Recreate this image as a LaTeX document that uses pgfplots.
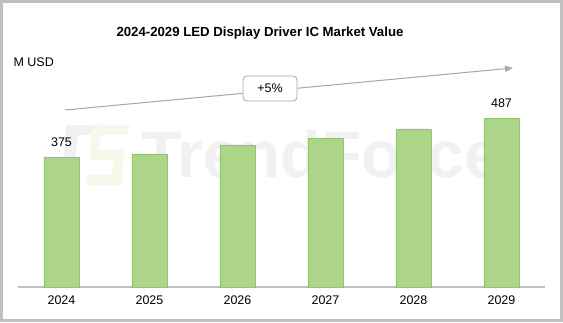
\documentclass[border=0pt]{standalone}
\usepackage{fontspec}
\setmainfont{Liberation Sans}
\usepackage{pgfplots}
\pgfplotsset{compat=1.18}
\usetikzlibrary{arrows.meta}
\definecolor{barfill}{RGB}{172,213,138}
\definecolor{baredge}{RGB}{146,196,106}
\definecolor{framegray}{RGB}{192,192,192}
\definecolor{arrowgray}{RGB}{166,166,166}
\definecolor{wm}{RGB}{241,241,241}
\definecolor{wmgreen}{RGB}{245,249,236}
\begin{document}
\begin{tikzpicture}[x=1pt,y=1pt]
\fill[white] (0,0) rectangle (563,322);
\draw[framegray,line width=3pt] (1.5,1.5) rectangle (561.5,320.5);
% watermark
\fill[wm] (66,197) -- (103,197) -- (100,187) -- (78,187) -- (72,137) -- (62,137) -- cycle;
\fill[wmgreen] (92,197) -- (130,197) -- (127,187) -- (100,187) -- (99,172) -- (124,172) -- (122,137) -- (85,137) -- (88,147) -- (112,147) -- (113,162) -- (90,162) -- cycle;
\node[wm,font=\bfseries\fontsize{66}{70}\selectfont,anchor=base] at (321,145) {TrendForce};
\begin{axis}[
  at={(17.5pt,35pt)}, anchor=south west,
  scale only axis, width=528pt, height=208pt,
  xmin=-0.5, xmax=5.5, ymin=0, ymax=600,
  axis x line=bottom, axis y line=none,
  axis line style={framegray,line width=1.5pt,-},
  x axis line style={-},
  xtick={0,1,2,3,4,5},
  xticklabels={2024,2025,2026,2027,2028,2029},
  major tick length=0pt,
  xticklabel style={font=\fontsize{12.5}{14}\selectfont,yshift=-5pt},
  /pgf/number format/assume math mode=true,
  clip=false,
]
\addplot[ybar, bar width=35pt, fill=barfill, draw=baredge] coordinates {
  (0,375) (1,384) (2,410) (3,428) (4,456) (5,487)};
\node[anchor=south,font=\fontsize{12.5}{14}\selectfont] at (axis cs:0,375) [yshift=7pt] {375};
\node[anchor=south,font=\fontsize{12.5}{14}\selectfont] at (axis cs:5,487) [yshift=7pt] {487};
\end{axis}
\node[font=\bfseries\fontsize{13.2}{15}\selectfont] at (260,289) {2024-2029 LED Display Driver IC Market Value};
\node[anchor=west,font=\fontsize{12.5}{14}\selectfont] at (10,260) {M USD};
\draw[arrowgray,line width=1pt,-{Triangle[length=8pt,width=6pt]}] (65,212) -- (513,254);
\node[draw=arrowgray,fill=white,rounded corners=4pt,minimum width=54pt,minimum height=25pt,line width=0.8pt,font=\fontsize{12.5}{14}\selectfont] at (270,233.5) {+5\%};
\end{tikzpicture}
\end{document}
